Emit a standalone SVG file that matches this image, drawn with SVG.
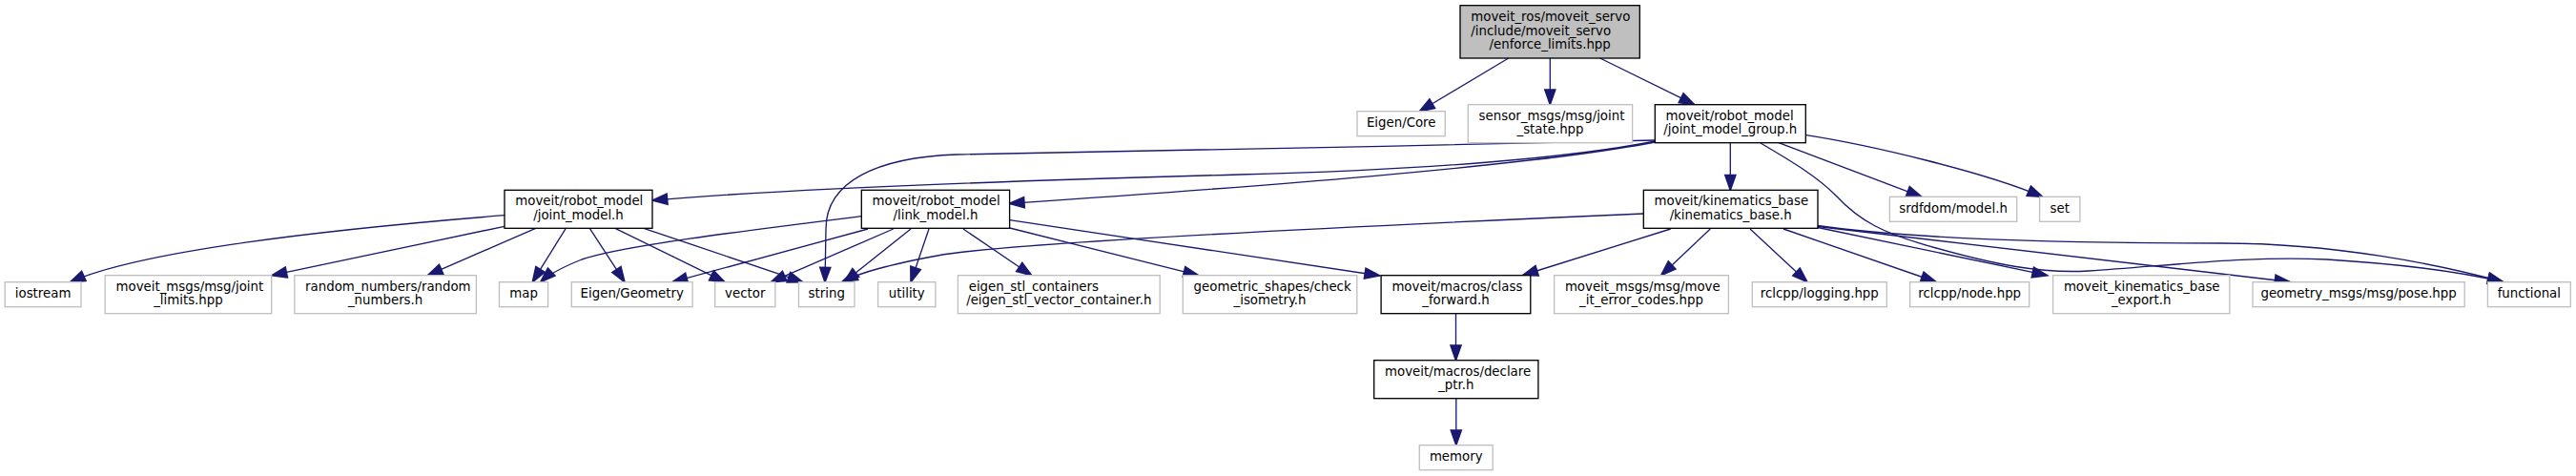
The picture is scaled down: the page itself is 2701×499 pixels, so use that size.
<svg xmlns="http://www.w3.org/2000/svg" width="2701" height="499" viewBox="0 0 2701 499">
<style>
.bg{fill:#ffffff}
.doc{fill:#ffffff;stroke:#000000;stroke-width:1.33}
.root{fill:#bfbfbf;stroke:#000000;stroke-width:1.33}
.ext{fill:#ffffff;stroke:#bfbfbf;stroke-width:1.33}
text{font-family:"DejaVu Sans","Liberation Sans",sans-serif;font-size:13.33px;fill:#000000}
.m{text-anchor:middle}
.s{text-anchor:start}
.e{fill:none;stroke:#191970;stroke-width:1.33;marker-end:url(#ah)}
</style>
<defs>
<marker id="ah" markerUnits="userSpaceOnUse" markerWidth="20" markerHeight="20" viewBox="-15 -7 17 14" refX="0" refY="0" orient="auto" overflow="visible">
<path d="M-13.3,-4.67 L0,0 L-13.3,4.67 Z" fill="#191970" stroke="#191970" stroke-width="1.33" stroke-linejoin="miter"/>
</marker>
</defs>
<rect class="bg" x="0" y="0" width="2701" height="499"/>

<g id="connectors">
<path class="e" d="M1581.7,61 L1488.3,116.7"/>
<path class="e" d="M1625.3,61 L1625.3,109.7"/>
<path class="e" d="M1677.7,61 L1776.7,109.7"/>
<path class="e" d="M1814.3,149.7 L1814.3,199.3"/>
<path class="e" d="M1865,149.7 L2015,206.3"/>
<path class="e" d="M1894,141.7 C1960,152 2080,180 2141.7,206.3"/>
<path class="e" d="M1735.3,148 C1650,165 1500,178 1300,183 C1000,191 800,200 684,210"/>
<path class="e" d="M1735.3,149 C1600,175 1300,197 1058.3,213.3"/>
<path class="e" d="M1735.3,147 C1500,154 1150,157 1003,162 C920,165 866,190 866,240 L865,296"/>
<path class="e" d="M1846,150 C1880,170 1905,185 1925,205 C1950,232 1975,245 2030,260 C2090,277 2140,287 2190,284 C2280,278 2360,268 2440,272 C2520,277 2580,285 2624.3,295.5"/>
<path class="e" d="M1723.3,224 C1400,238 1050,255 983,268 C930,278 905,285 883.3,295"/>
<path class="e" d="M1751.7,240 L1596.7,288.5"/>
<path class="e" d="M1793.3,240 L1741.7,288.7"/>
<path class="e" d="M1835,240 L1895,295.7"/>
<path class="e" d="M1870,240 L2030,295.5"/>
<path class="e" d="M1906,238.5 L2146.7,288.7"/>
<path class="e" d="M1906,237.5 L2401,295.5"/>
<path class="e" d="M1906,236.5 C2000,250 2150,255 2330,255 C2450,255 2560,278 2624.3,295.5"/>
<path class="e" d="M903.3,226.7 C780,242 650,258 610,272 C590,280 575,288 566.7,295.7"/>
<path class="e" d="M910,240 L705,295.7"/>
<path class="e" d="M936.7,240 L808.3,295.7"/>
<path class="e" d="M955,240 L885,295.7"/>
<path class="e" d="M974,240 L955,295.7"/>
<path class="e" d="M1010,240 L1081.7,288.7"/>
<path class="e" d="M1058.7,239 L1256.7,288.7"/>
<path class="e" d="M1058.7,230.7 L1446.7,289"/>
<path class="e" d="M529,225.7 C350,240 150,262 73.5,295.7"/>
<path class="e" d="M529,237.3 L285,288.7"/>
<path class="e" d="M561.7,239.3 L448.3,288.7"/>
<path class="e" d="M593.3,239.3 L558.3,295.7"/>
<path class="e" d="M618.3,239.3 L655,295.7"/>
<path class="e" d="M645,239.3 L760,295.7"/>
<path class="e" d="M675,239.3 L841.7,295.7"/>
<path class="e" d="M1526.5,328.7 L1526.5,377.7"/>
<path class="e" d="M1526.8,417.7 L1526.8,466.7"/>
</g>

<g id="node_enforce_limits">
<rect class="root" x="1531" y="5.7" width="188.3" height="55.3"/>
<text class="s" x="1542.3" y="22">moveit_ros/moveit_servo</text>
<text class="s" x="1542.3" y="36.6">/include/moveit_servo</text>
<text class="m" x="1625.15" y="51.3">/enforce_limits.hpp</text>
</g>
<g id="node_eigen_core">
<rect class="ext" x="1423" y="116.7" width="92.3" height="26"/>
<text class="m" x="1469.2" y="133">Eigen/Core</text>
</g>
<g id="node_joint_state">
<rect class="ext" x="1539.3" y="109.7" width="172.3" height="40"/>
<text class="s" x="1550.6" y="125.7">sensor_msgs/msg/joint</text>
<text class="m" x="1625.5" y="140.3">_state.hpp</text>
</g>
<g id="node_joint_model_group">
<rect class="doc" x="1735.3" y="109.7" width="158" height="40"/>
<text class="s" x="1746.6" y="125.7">moveit/robot_model</text>
<text class="m" x="1814.3" y="140.3">/joint_model_group.h</text>
</g>
<g id="node_joint_model">
<rect class="doc" x="529" y="199.3" width="155" height="40"/>
<text class="s" x="540.3" y="215.3">moveit/robot_model</text>
<text class="m" x="606.5" y="229.9">/joint_model.h</text>
</g>
<g id="node_link_model">
<rect class="doc" x="903.3" y="199.3" width="155.3" height="40"/>
<text class="s" x="914.6" y="215.3">moveit/robot_model</text>
<text class="m" x="980.95" y="229.9">/link_model.h</text>
</g>
<g id="node_kinematics_base">
<rect class="doc" x="1723.3" y="199.3" width="182.7" height="40"/>
<text class="s" x="1734.6" y="215.3">moveit/kinematics_base</text>
<text class="m" x="1814.65" y="229.9">/kinematics_base.h</text>
</g>
<g id="node_srdf_model">
<rect class="ext" x="1981.4" y="206.3" width="133.3" height="26"/>
<text class="m" x="2048.05" y="222.6">srdfdom/model.h</text>
</g>
<g id="node_set">
<rect class="ext" x="2138.6" y="206.3" width="42.3" height="26"/>
<text class="m" x="2159.75" y="222.6">set</text>
</g>
<g id="node_iostream">
<rect class="ext" x="5.2" y="295.7" width="79.8" height="26"/>
<text class="m" x="45.1" y="312">iostream</text>
</g>
<g id="node_joint_limits">
<rect class="ext" x="110.2" y="288.7" width="174.5" height="40"/>
<text class="s" x="121.5" y="304.7">moveit_msgs/msg/joint</text>
<text class="m" x="197.45" y="319.3">_limits.hpp</text>
</g>
<g id="node_random_numbers">
<rect class="ext" x="308.8" y="288.7" width="190.6" height="40"/>
<text class="s" x="320.1" y="304.7">random_numbers/random</text>
<text class="m" x="404.1" y="319.3">_numbers.h</text>
</g>
<g id="node_map">
<rect class="ext" x="523.5" y="295.7" width="51.1" height="26"/>
<text class="m" x="549.05" y="312">map</text>
</g>
<g id="node_eigen_geometry">
<rect class="ext" x="599.3" y="295.7" width="126.8" height="26"/>
<text class="m" x="662.7" y="312">Eigen/Geometry</text>
</g>
<g id="node_vector">
<rect class="ext" x="749.7" y="295.7" width="63.1" height="26"/>
<text class="m" x="781.25" y="312">vector</text>
</g>
<g id="node_string">
<rect class="ext" x="837.5" y="295.7" width="58.5" height="26"/>
<text class="m" x="866.75" y="312">string</text>
</g>
<g id="node_utility">
<rect class="ext" x="920.6" y="295.7" width="60.3" height="26"/>
<text class="m" x="950.75" y="312">utility</text>
</g>
<g id="node_eigen_stl">
<rect class="ext" x="1004.4" y="288.7" width="211.8" height="40"/>
<text class="s" x="1015.7" y="304.7">eigen_stl_containers</text>
<text class="m" x="1110.3" y="319.3">/eigen_stl_vector_container.h</text>
</g>
<g id="node_check_isometry">
<rect class="ext" x="1240.3" y="288.7" width="182.5" height="40"/>
<text class="s" x="1251.6" y="304.7">geometric_shapes/check</text>
<text class="m" x="1331.55" y="319.3">_isometry.h</text>
</g>
<g id="node_class_forward">
<rect class="doc" x="1448.1" y="288.7" width="156.7" height="40"/>
<text class="s" x="1459.4" y="304.7">moveit/macros/class</text>
<text class="m" x="1526.45" y="319.3">_forward.h</text>
</g>
<g id="node_error_codes">
<rect class="ext" x="1629.6" y="288.7" width="182.8" height="40"/>
<text class="s" x="1640.9" y="304.7">moveit_msgs/msg/move</text>
<text class="m" x="1721" y="319.3">_it_error_codes.hpp</text>
</g>
<g id="node_logging">
<rect class="ext" x="1837.3" y="295.7" width="141" height="26"/>
<text class="m" x="1907.8" y="312">rclcpp/logging.hpp</text>
</g>
<g id="node_node">
<rect class="ext" x="2002.6" y="295.7" width="125.1" height="26"/>
<text class="m" x="2065.15" y="312">rclcpp/node.hpp</text>
</g>
<g id="node_kb_export">
<rect class="ext" x="2152.6" y="288.7" width="185.2" height="40"/>
<text class="s" x="2163.9" y="304.7">moveit_kinematics_base</text>
<text class="m" x="2245.2" y="319.3">_export.h</text>
</g>
<g id="node_pose">
<rect class="ext" x="2362" y="295.7" width="222.2" height="26"/>
<text class="m" x="2473.1" y="312">geometry_msgs/msg/pose.hpp</text>
</g>
<g id="node_functional">
<rect class="ext" x="2608.4" y="295.7" width="86.9" height="26"/>
<text class="m" x="2651.85" y="312">functional</text>
</g>
<g id="node_declare_ptr">
<rect class="doc" x="1440.7" y="377.7" width="172.2" height="40"/>
<text class="s" x="1452" y="393.7">moveit/macros/declare</text>
<text class="m" x="1526.8" y="408.3">_ptr.h</text>
</g>
<g id="node_memory">
<rect class="ext" x="1488.3" y="466.7" width="76.9" height="26"/>
<text class="m" x="1526.75" y="483">memory</text>
</g>
</svg>
